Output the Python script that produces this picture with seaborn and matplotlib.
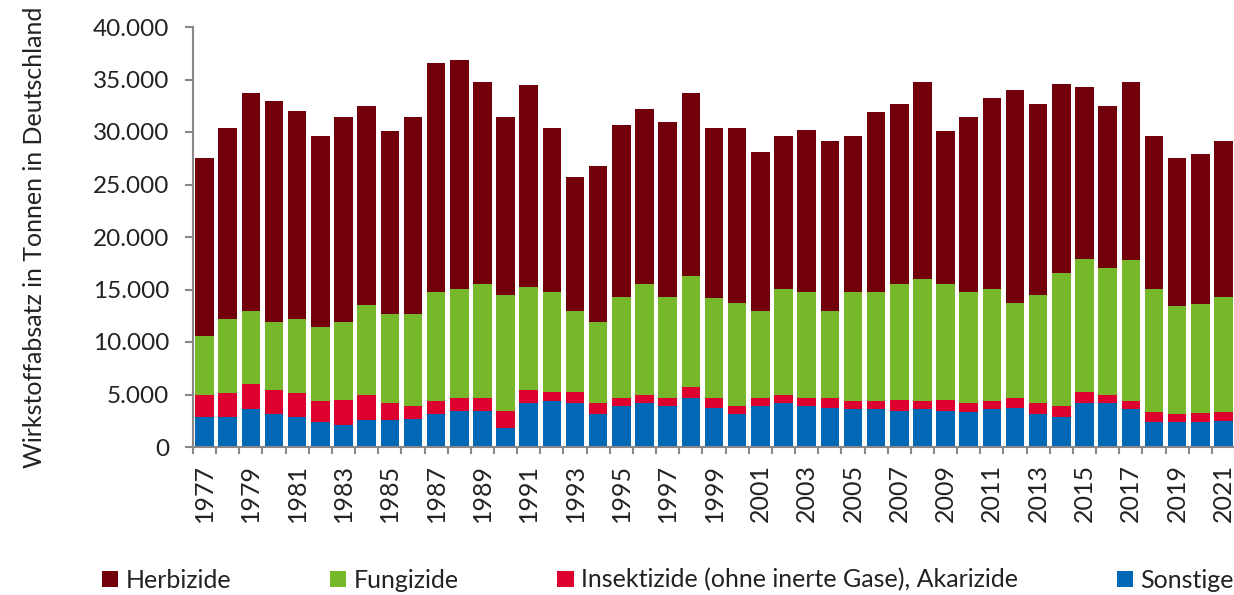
import matplotlib
matplotlib.use("Agg")
import matplotlib.pyplot as plt
from matplotlib.patches import Patch
from matplotlib.ticker import FuncFormatter, FixedLocator
import seaborn as sns
import pandas as pd
import numpy as np

# Wirkstoffabsatz in Tonnen, 1977-2021
years = list(range(1977, 2022))

sonstige = [2835, 2835, 3600, 3150, 2835, 2390, 2070, 2580, 2580, 2645,
            3150, 3410, 3410, 1815, 4170, 4360, 4170, 3150, 3890, 4170,
            3890, 4650, 3700, 3150, 3890, 4170, 3890, 3700, 3600, 3600,
            3410, 3600, 3410, 3340, 3600, 3730, 3150, 2835, 4170, 4170,
            3600, 2390, 2390, 2390, 2450]
insektizide = [2100, 2290, 2390, 2260, 2290, 1975, 2390, 2360, 1590, 1240,
               1210, 1240, 1240, 1590, 1240, 860, 1050, 1020, 760, 770,
               760, 1050, 955, 730, 760, 770, 760, 955, 760, 760,
               1050, 760, 1050, 830, 760, 920, 1020, 1050, 1050, 770,
               760, 920, 730, 830, 860]
fungizide = [5640, 7070, 6975, 6500, 7070, 7070, 7450, 8600, 8500, 8790,
             10415, 10415, 10890, 11080, 9840, 9555, 7740, 7740, 9650, 10600,
             9650, 10600, 9555, 9840, 8310, 10130, 10130, 8310, 10415, 10415,
             11080, 11660, 11080, 10600, 10700, 9080, 10320, 12710, 12710, 12135,
             13470, 11750, 10320, 10415, 10990]
herbizide = [16910, 18150, 20730, 21020, 19780, 18150, 19490, 18920, 17390, 18730,
             21790, 21790, 19200, 16910, 19210, 15575, 12710, 14810, 16340, 16630,
             16630, 17390, 16150, 16630, 15100, 14520, 15380, 16150, 14810, 17100,
             17100, 18730, 14520, 16630, 18150, 20260, 18150, 17960, 16340, 15380,
             16910, 14520, 14050, 14240, 14810]

series = ["Herbizide", "Fungizide", "Insektizide (ohne inerte Gase), Akarizide", "Sonstige"]
colors = ["#72000A", "#77B72A", "#DE002E", "#0068B4"]

df = pd.DataFrame({
    "Jahr": [str(y) for y in years],
    "Sonstige": sonstige,
    "Insektizide": insektizide,
    "Fungizide": fungizide,
    "Herbizide": herbizide,
})
# cumulative heights for stacking (bottom to top)
df["c_ins"] = df["Sonstige"] + df["Insektizide"]
df["c_fung"] = df["c_ins"] + df["Fungizide"]
df["c_herb"] = df["c_fung"] + df["Herbizide"]

sns.set_style("white")
plt.rcParams["font.family"] = ["Lato", "DejaVu Sans"]

fig = plt.figure(figsize=(12.34, 5.95), dpi=100)
ax = fig.add_axes([193 / 1234, 148 / 595, 1042 / 1234, 420 / 595])

# draw layered bars, tallest first
for col, color in zip(["c_herb", "c_fung", "c_ins", "Sonstige"], colors):
    sns.barplot(data=df, x="Jahr", y=col, color=color, width=0.8,
                saturation=1, ax=ax, edgecolor="none")

ax.set_xlim(-0.5, len(years) - 0.5)
ax.set_ylim(0, 40000)
ax.set_yticks(np.arange(0, 40001, 5000))
ax.yaxis.set_major_formatter(FuncFormatter(lambda v, p: f"{int(v):,}".replace(",", ".")))

# labels on every other year, tick marks between categories
ax.set_xticks(range(0, len(years), 2))
ax.set_xticklabels([str(y) for y in years[::2]], rotation=90)
ax.xaxis.set_minor_locator(FixedLocator(np.arange(-0.5, len(years), 1)))
ax.tick_params(axis="x", which="major", length=0, pad=12, labelsize=18, colors="#222222")
ax.tick_params(axis="x", which="minor", length=5, width=1.5, color="#888888", bottom=True)
ax.tick_params(axis="y", which="major", length=6, width=1.5, color="#888888",
               pad=11, labelsize=17.5, labelcolor="#222222", left=True)

for s in ["top", "right"]:
    ax.spines[s].set_visible(False)
for s in ["left", "bottom"]:
    ax.spines[s].set_color("#888888")
    ax.spines[s].set_linewidth(1.5)

ax.set_xlabel("")
ax.set_ylabel("Wirkstoffabsatz in Tonnen in Deutschland", fontsize=18,
              color="#222222", labelpad=34)

handles = [Patch(facecolor=c, edgecolor="none") for c in colors]
fig.legend(handles, series, loc="center", ncol=4, mode="expand", frameon=False,
           bbox_to_anchor=(92 / 1234, 0.0, 1152 / 1234, 0.05),
           handlelength=0.65, handleheight=0.65, handletextpad=0.3,
           fontsize=18, labelcolor="#222222", borderaxespad=0)

fig.savefig("out.png", dpi=100)
